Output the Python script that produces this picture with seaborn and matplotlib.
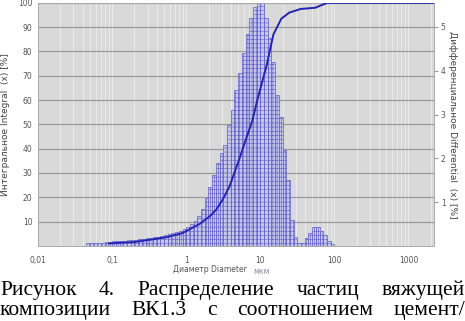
import matplotlib
matplotlib.use("Agg")
import matplotlib.pyplot as plt
import seaborn as sns
from matplotlib.ticker import LogLocator, NullFormatter

# differential distribution: channel centre (um) and share per channel (%)
size_um = [0.0473, 0.0531, 0.0596, 0.0668, 0.0750, 0.0841, 0.0944, 0.106, 0.119, 0.133,
           0.150, 0.168, 0.188, 0.211, 0.237, 0.266, 0.299, 0.335, 0.376, 0.422,
           0.473, 0.531, 0.596, 0.668, 0.750, 0.841, 0.944, 1.06, 1.19, 1.33,
           1.50, 1.68, 1.88, 2.11, 2.37, 2.66, 2.99, 3.35, 3.76, 4.22,
           4.73, 5.31, 5.96, 6.68, 7.50, 8.41, 9.44, 10.6, 11.9, 13.3,
           15.0, 16.8, 18.8, 21.1, 23.7, 26.6, 29.9, 33.5, 37.6, 42.2,
           47.3, 53.1, 59.6, 66.8, 75.0, 84.1, 94.4]
diff_pct = [0.07, 0.07, 0.07, 0.07, 0.07, 0.08, 0.10, 0.11, 0.11, 0.12,
            0.12, 0.13, 0.14, 0.14, 0.15, 0.16, 0.17, 0.18, 0.20, 0.21,
            0.23, 0.25, 0.27, 0.29, 0.32, 0.35, 0.38, 0.43, 0.49, 0.57,
            0.68, 0.85, 1.10, 1.35, 1.62, 1.90, 2.12, 2.30, 2.75, 3.10,
            3.55, 3.95, 4.40, 4.85, 5.20, 5.45, 5.55, 5.55, 5.20, 4.75,
            4.20, 3.45, 2.95, 2.20, 1.50, 0.60, 0.20, 0.06, 0.07, 0.18,
            0.30, 0.42, 0.43, 0.35, 0.24, 0.12, 0.05]

# integral (cumulative) curve
cum_size_um = [0.09, 0.2, 0.32, 0.55, 0.89, 1.51, 2.1, 2.55, 3.1, 3.84, 5.24,
               6.4, 7.8, 9.1, 12.1, 15.0, 19.2, 24.6, 35.0, 55.0, 70.0, 80.0, 2200]
cum_pct = [1.0, 1.6, 2.5, 3.6, 5.3, 9.0, 12.3, 15.0, 19.0, 24.5, 36.0,
           44.0, 51.5, 60.0, 74.0, 87.0, 93.5, 96.0, 97.5, 98.0, 99.3, 100.0, 100.0]

x_ticks = [0.01, 0.1, 1, 10, 100, 1000]
x_tick_labels = ["0,01", "0,1", "1", "10", "100", "1000"]
left_ticks = [10, 20, 30, 40, 50, 60, 70, 80, 90, 100]
right_ticks = [1, 2, 3, 4, 5]

caption_1 = ["Рисунок", "4.", "Распределение", "частиц", "вяжущей"]
caption_2 = ["композиции", "ВК1.3", "с", "соотношением", "цемент/"]

sns.set_style("white")
plt.rcParams["hatch.linewidth"] = 0.4
plt.rcParams["font.family"] = ["DejaVu Sans"]

fig = plt.figure(figsize=(4.65, 3.21), dpi=100)
ax = fig.add_axes([0.082, 0.234, 0.851, 0.757])
ax.set_facecolor("#d9d9d9")
ax.set_xscale("log")

# bars on the right (differential) axis
ax2 = ax.twinx()
sns.histplot(x=size_um, weights=diff_pct, log_scale=True, binwidth=0.05,
             binrange=(-1.35, 2.0), ax=ax2, stat="count",
             color="#c4c4ee", alpha=0.8, edgecolor="#6060c8",
             linewidth=0.5, hatch="++++")
ax2.set_ylim(0, 5.55)

# cumulative curve on top
ax3 = ax.twinx()
sns.lineplot(x=cum_size_um, y=cum_pct, ax=ax3, color="#2424b0", linewidth=1.4)
ax3.set_ylim(0, 100)
ax3.set_axis_off()

ax.set_xlim(0.01, 2200)
ax.set_ylim(0, 100)
ax.set_xticks(x_ticks, x_tick_labels)
ax.xaxis.set_minor_locator(LogLocator(base=10, subs=range(2, 10)))
ax.xaxis.set_minor_formatter(NullFormatter())
ax.set_yticks(left_ticks)
ax.grid(which="both", axis="x", color="#eeeeee", linewidth=0.6)
ax.grid(which="major", axis="y", color="#9a9a9a", linewidth=0.9)
ax.set_axisbelow(True)

ax.tick_params(axis="x", which="major", labelsize=5.5, labelcolor="#555555",
               length=2, color="#999999", pad=5)
ax.tick_params(axis="x", which="minor", length=1.5, color="#999999")
ax.tick_params(axis="y", labelsize=5.5, labelcolor="#555555", length=0, pad=4)

ax2.set_yticks(right_ticks)
ax2.tick_params(axis="y", labelsize=5.5, labelcolor="#555555", length=3,
                color="#999999", pad=2)
ax2.set_ylabel("Дифференциальное Differential  (x) [%]", rotation=270,
               fontsize=6.5, color="#444444", labelpad=8)
ax2.set_xlabel("")
ax.set_ylabel("Интегральное Integral  (x) [%]", fontsize=6.5, color="#444444",
              labelpad=6)

for a in (ax, ax2):
    for s in a.spines.values():
        s.set_color("#aaaaaa")
        s.set_linewidth(0.6)

fig.text(0.452, 1 - 270 / 321, "Диаметр Diameter", fontsize=5.5,
         color="#555555", ha="center", va="center")
fig.text(0.545, 1 - 271 / 321, "мкм", fontsize=5.5, color="#8a8aa0",
         ha="left", va="center")


def justify(words, y, size):
    texts = [fig.text(0, y, w, fontsize=size, family="Liberation Serif",
                      va="baseline", color="black") for w in words]
    fig.canvas.draw()
    r = fig.canvas.get_renderer()
    widths = [t.get_window_extent(r).width for t in texts]
    total = fig.bbox.width
    gap = (total - sum(widths)) / (len(words) - 1)
    x = 0.0
    for t, w in zip(texts, widths):
        t.set_x(x / total)
        x += w + gap


justify(caption_1, 1 - 295 / 321, 15.5)
justify(caption_2, 1 - 315 / 321, 15.5)

fig.savefig("out.png", dpi=100)
